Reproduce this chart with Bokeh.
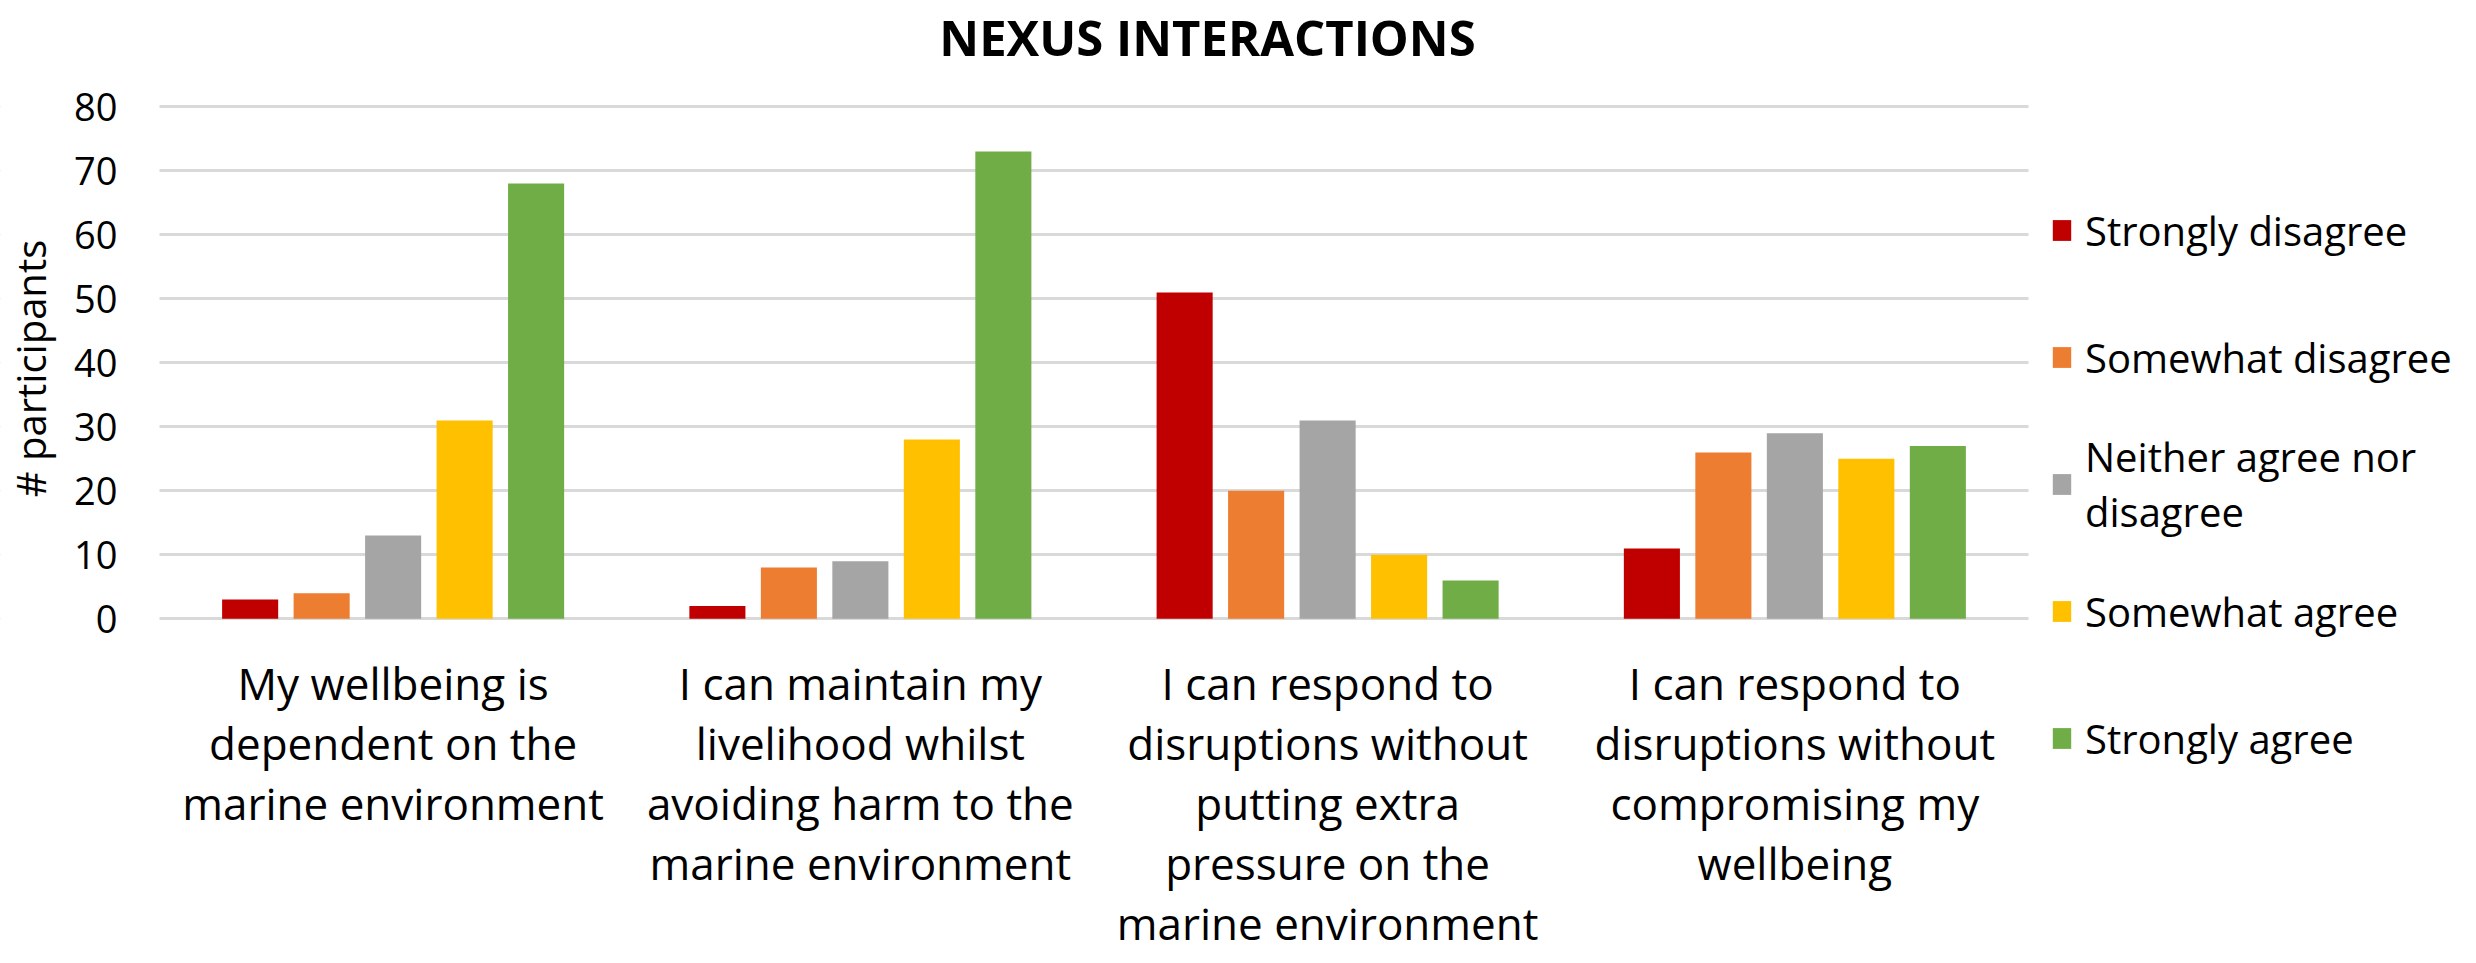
from bokeh.plotting import figure
from bokeh.models import Range1d, Legend, LegendItem, FixedTicker, ColumnDataSource, Label, BoxAnnotation
from bokeh.embed import file_html
from bokeh.resources import INLINE
import math

categories = [
    "My wellbeing is\ndependent on the\nmarine environment",
    "I can maintain my\nlivelihood whilst\navoiding harm to the\nmarine environment",
    "I can respond to\ndisruptions without\nputting extra\npressure on the\nmarine environment",
    "I can respond to\ndisruptions without\ncompromising my\nwellbeing",
]
series_labels = ["Strongly disagree", "Somewhat disagree", "Neither agree nor\ndisagree",
                 "Somewhat agree", "Strongly agree"]
strongly_disagree = [3, 2, 51, 11]
somewhat_disagree = [4, 8, 20, 26]
neither = [13, 9, 31, 29]
somewhat_agree = [31, 28, 10, 25]
strongly_agree = [68, 73, 6, 27]
colors = ["#C00000", "#ED7D31", "#A5A5A5", "#FFC000", "#70AD47"]
y_ticks = [0, 10, 20, 30, 40, 50, 60, 70, 80]
title_text = "NEXUS INTERACTIONS"
y_label = "# participants"

FONT = "Open Sans"
series_values = [strongly_disagree, somewhat_disagree, neither, somewhat_agree, strongly_agree]

n = len(categories)
centers = [i + 0.5 for i in range(n)]
offsets = [-0.306, -0.153, 0.0, 0.153, 0.306]

# the frame covers the whole canvas; axes are drawn at fixed locations inside it
p = figure(width=2460, height=952, x_range=Range1d(-0.3403, n + 0.9246),
           y_range=Range1d(-52.14, 96.61), output_backend="svg", toolbar_location=None,
           min_border_left=0, min_border_right=0, min_border_top=0, min_border_bottom=0)

renderers = []
for vals, off, col in zip(series_values, offsets, colors):
    src = ColumnDataSource(dict(x=[c + off for c in centers], top=vals))
    r = p.vbar(x="x", top="top", bottom=0, width=0.12, source=src,
               fill_color=col, line_color=None)
    renderers.append(r)

p.outline_line_color = None
p.xgrid.visible = False
p.ygrid.grid_line_color = "#D9D9D9"
p.ygrid.grid_line_width = 3
p.yaxis.ticker = FixedTicker(ticks=y_ticks)
p.yaxis.bounds = (0, 80)

# keep grid lines to the category area only
p.add_layout(BoxAnnotation(left=n, fill_color="white", fill_alpha=1, line_color=None, level="underlay"))
p.add_layout(BoxAnnotation(right=0, fill_color="white", fill_alpha=1, line_color=None, level="underlay"))

for ax in (p.xaxis[0], p.yaxis[0]):
    ax.axis_line_color = None
    ax.major_tick_line_color = None
    ax.minor_tick_line_color = None
    ax.major_tick_out = 0
    ax.major_tick_in = 0
    ax.major_label_text_font = FONT
    ax.major_label_text_color = "#000000"

p.yaxis.fixed_location = 0
p.yaxis.major_label_text_font_size = "38px"
p.yaxis.major_label_standoff = 42

p.xaxis.ticker = FixedTicker(ticks=centers)
p.xaxis.major_label_overrides = {c: lab for c, lab in zip(centers, categories)}
p.xaxis.fixed_location = 0
p.xaxis.major_label_text_font_size = "44px"
p.xaxis.major_label_text_line_height = 1.0
p.xaxis.major_label_standoff = 34
p.xaxis.major_label_orientation = "horizontal"

p.add_layout(Label(x=30, y=584, x_units="screen", y_units="screen", text=y_label,
                   angle=math.pi / 2, text_font=FONT, text_font_size="40px",
                   text_color="#000000", text_align="center", text_baseline="middle"))

p.add_layout(Label(x=1207, y=916, x_units="screen", y_units="screen", text=title_text,
                   text_font=FONT, text_font_size="49px", text_font_style="bold",
                   text_color="#000000", text_align="center", text_baseline="middle"))

legend = Legend(items=[LegendItem(label=lab, renderers=[r]) for lab, r in zip(series_labels, renderers)],
                location=(2050, 159), glyph_width=23, glyph_height=26, label_standoff=12,
                padding=0, margin=0, border_line_color=None, background_fill_alpha=0,
                label_text_font=FONT, label_text_font_size="40px", label_text_color="#000000",
                label_text_line_height=1.0, spacing=17, label_height=110)
p.add_layout(legend, "center")

open("out.html", "w").write(file_html(p, INLINE))
